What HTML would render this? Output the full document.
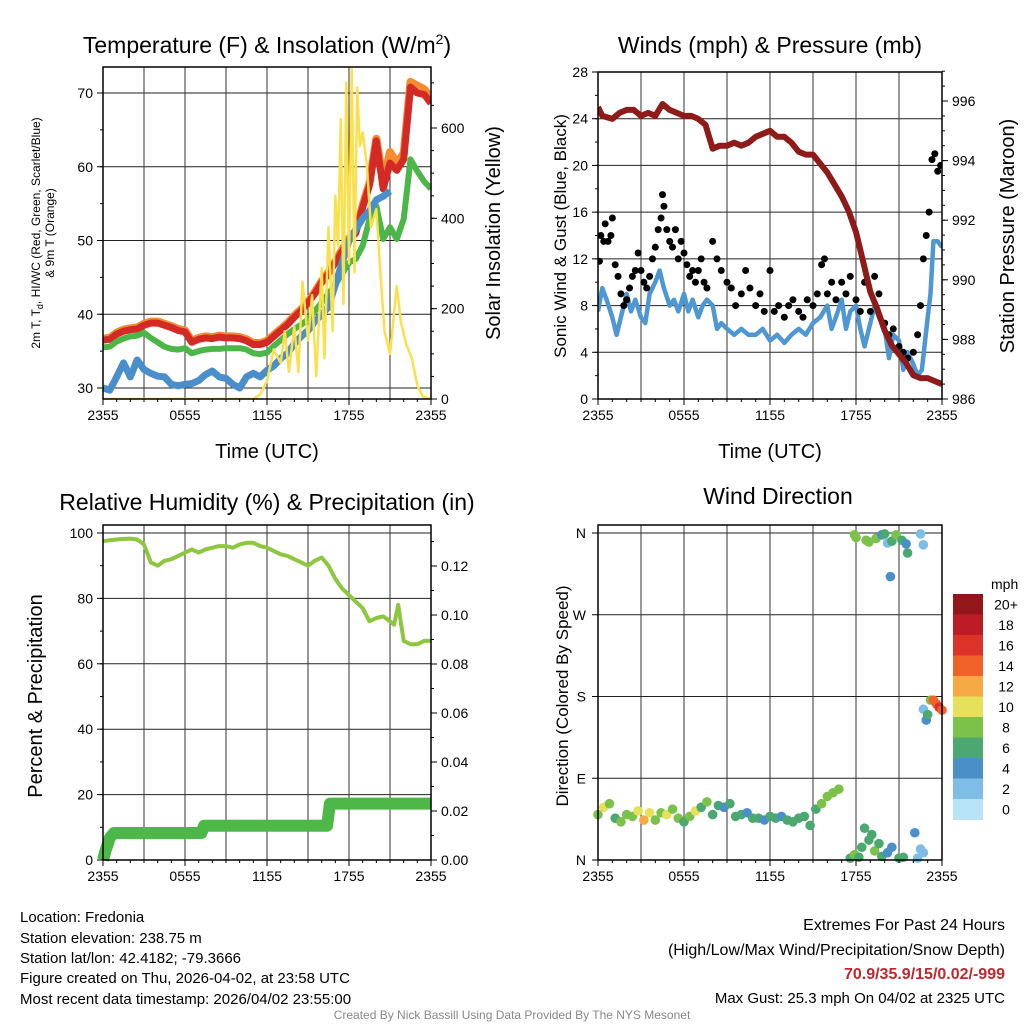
<!DOCTYPE html>
<html><head><meta charset="utf-8"><style>
body{margin:0;background:#fff;}
svg{display:block;font-family:"Liberation Sans",Arial,sans-serif;}
</style></head><body>
<svg id="c" width="1024" height="1024" viewBox="0 0 1024 1024">
<defs>
<clipPath id="clip1"><rect x="103" y="67" width="328" height="332"/></clipPath>
<clipPath id="clip2"><rect x="598" y="72" width="344" height="327"/></clipPath>
</defs>
<g id="g1"></g>
<g id="g2"></g>
<g id="g3"></g>
<g id="g4"></g>
<text x="267" y="53" font-size="23" text-anchor="middle">Temperature (F) &amp; Insolation (W/m<tspan dy="-9" font-size="14">2</tspan><tspan dy="9">)</tspan></text>
<text x="770" y="53" font-size="23" text-anchor="middle">Winds (mph) &amp; Pressure (mb)</text>
<text x="267" y="510" font-size="23" text-anchor="middle">Relative Humidity (%) &amp; Precipitation (in)</text>
<text x="778" y="504" font-size="23" text-anchor="middle">Wind Direction</text>
<text transform="translate(40,233) rotate(-90)" font-size="12" text-anchor="middle">2m T, T<tspan dy="3" font-size="9">d</tspan><tspan dy="-3">, HI/WC (Red, Green, Scarlet/Blue)</tspan></text>
<text transform="translate(54,233) rotate(-90)" font-size="12" text-anchor="middle">&amp; 9m T (Orange)</text>
<text transform="translate(500,233) rotate(-90)" font-size="20" text-anchor="middle">Solar Insolation (Yellow)</text>
<text transform="translate(566,236) rotate(-90)" font-size="17" text-anchor="middle">Sonic Wind &amp; Gust (Blue, Black)</text>
<text transform="translate(1014,236) rotate(-90)" font-size="20" text-anchor="middle">Station Pressure (Maroon)</text>
<text transform="translate(42,696) rotate(-90)" font-size="20" text-anchor="middle">Percent &amp; Precipitation</text>
<text transform="translate(568,696) rotate(-90)" font-size="17" text-anchor="middle">Direction (Colored By Speed)</text>
<text x="267" y="458" font-size="20" text-anchor="middle">Time (UTC)</text>
<text x="770" y="458" font-size="20" text-anchor="middle">Time (UTC)</text>
<g font-size="15">
<text x="20" y="922">Location: Fredonia</text>
<text x="20" y="943">Station elevation: 238.75 m</text>
<text x="20" y="963">Station lat/lon: 42.4182; -79.3666</text>
<text x="20" y="983">Figure created on Thu, 2026-04-02, at 23:58 UTC</text>
<text x="20" y="1004">Most recent data timestamp: 2026/04/02 23:55:00</text>
</g>
<g font-size="16" text-anchor="end">
<text x="1005" y="930">Extremes For Past 24 Hours</text>
<text x="1005" y="955">(High/Low/Max Wind/Precipitation/Snow Depth)</text>
<text x="1005" y="979" fill="#c1272d" font-weight="bold">70.9/35.9/15/0.02/-999</text>
<text x="1005" y="1003" font-size="15">Max Gust: 25.3 mph On 04/02 at 2325 UTC</text>
</g>
<text x="512" y="1019" font-size="12" fill="#888" text-anchor="middle">Created By Nick Bassill Using Data Provided By The NYS Mesonet</text>
</svg>
<script>
const xTickLabels=["2355","0555","1155","1755","2355"];
const tHours=[0,0.5,1,1.5,2,2.5,3,3.5,4,4.5,5,5.5,6,6.5,7,7.5,8,8.5,9,9.5,10,10.5,11,11.5,12,12.5,13,13.5,14,14.5,15,15.5,16,16.5,17,17.5,18,18.5,19,19.5,20,20.5,21,21.5,22,22.5,23,23.5,24];
const redT=[36.5,36.6,37.3,37.7,37.9,38,38.5,38.8,38.8,38.5,38.2,37.8,37.6,36.2,36.6,36.8,36.7,36.9,36.8,36.8,36.7,36.4,35.9,35.9,36.2,37,37.8,38.6,39.6,40.5,41.5,42.8,44.3,45.5,47,48.5,50,51,54.5,57.5,63.5,57,60.5,59.5,61,70.8,70,69.8,68.6];
const orangeT=[36.7,36.8,37.5,37.9,38.1,38.2,38.7,39,39,38.7,38.4,38,37.8,36.4,36.8,37,36.9,37.1,37,37,36.9,36.6,36.1,36.1,36.4,37.2,38,38.8,39.8,40.7,41.7,43,44.5,45.7,47.2,48.8,50.3,51.3,54.8,57.8,63.8,58,62,60.5,61.8,71.5,71,70.5,69.3];
const greenT=[35.5,35.6,36.3,36.7,37,37.1,37.5,36.8,36.2,35.6,35.3,35.2,35.4,34.7,35,35.2,35.3,35.3,35.4,35.4,35.4,35.2,34.7,34.6,34.8,35.7,36.5,37.3,38,38.6,39.3,40.4,41.6,42.8,44,45.5,47,47.5,49.3,52.9,54.7,50.2,51.8,50.2,52.9,61,59.4,58,57];
const blueT=[30,29.7,31.5,33.4,31.5,33.8,32.5,32,31.6,31.5,30.5,30.3,30.5,30.6,31,31.8,32.3,31.5,31.3,30.5,30,31.5,32,31.5,32.4,33,34,34.7,36,37,37.8,39,40,41,44,47,50,51.5,53,54,55.5,56,56.7];
const solarHours=[0,11,11.5,12,12.5,13,13.3,13.6,14,14.3,14.6,15,15.3,15.6,16,16.2,16.5,16.8,17,17.2,17.4,17.6,17.8,18,18.2,18.4,18.6,18.8,19,19.3,19.6,20,20.3,20.6,21,21.5,21.8,22.2,22.6,23,23.4,24];
const solarVals=[0,0,10,40,110,80,150,60,160,60,260,130,230,50,290,90,380,150,450,340,620,210,700,300,730,280,690,560,590,520,380,420,280,150,100,250,170,120,90,30,5,0];
const pHours=[0,0.3,1,1.5,2,2.5,3,3.5,4,4.5,5,5.5,6,6.5,7,7.5,8,8.5,9,9.5,10,10.5,11,11.5,12,12.5,13,13.5,14,14.5,15,15.5,16,16.5,17,17.5,18,18.5,19,19.5,20,20.5,21,21.5,22,22.5,23,23.5,24];
const pressVals=[995.8,995.5,995.4,995.6,995.7,995.7,995.5,995.6,995.5,995.9,995.7,995.6,995.5,995.5,995.4,995.2,994.4,994.5,994.5,994.6,994.5,994.6,994.8,994.9,995,994.8,994.8,994.6,994.3,994.2,994.2,993.9,993.6,993.2,992.8,992.3,991.6,990.6,989.6,989,988.3,987.8,987.5,987.2,986.8,986.7,986.7,986.6,986.5];
const sonicHours=[0,0.3,0.6,1,1.3,1.6,2,2.3,2.6,3,3.3,3.6,4,4.3,4.6,5,5.3,5.6,6,6.3,6.6,7,7.3,7.6,8,8.3,8.6,9,9.5,10,10.5,11,11.5,12,12.5,13,13.5,14,14.5,15,15.5,16,16.3,16.6,17,17.3,17.6,18,18.3,18.6,19,19.3,19.6,20,20.3,20.6,21,21.3,21.6,22,22.3,22.6,23,23.2,23.4,23.7,24];
const sonicVals=[7.5,9.5,8.5,7,5.5,7,9,7.5,8.5,7,6.5,9,10,11,9.5,8,8.5,7.5,9,7.5,8.5,7,8,8.5,8,6,6.5,6,5.5,6,5.5,5.5,6,5,5.5,4.8,5.5,6,5.5,6.5,7,8,6,7,8.5,6,7.5,8,6,4.5,6.5,8,7,6,3.5,5.5,5,2.5,4,3,2,2.5,7,9,13.5,13.5,13];
const gustHours=[0.1,0.2,0.4,0.5,0.7,0.9,1,1.2,1.4,1.6,1.8,2,2.2,2.4,2.6,2.8,3,3.2,3.4,3.6,3.8,4,4.2,4.4,4.5,4.6,4.8,5,5.2,5.4,5.6,5.8,6,6.2,6.4,6.6,6.8,7,7.2,7.4,7.6,8,8.3,8.6,9,9.3,9.6,10,10.3,10.6,11,11.3,11.6,12,12.3,12.6,13,13.3,13.6,14,14.3,14.6,15,15.3,15.6,15.8,16,16.3,16.6,17,17.3,17.6,18,18.3,18.6,19,19.3,19.6,20,20.3,20.6,21,21.3,21.6,22,22.3,22.5,22.7,22.9,23.1,23.3,23.5,23.7,23.9];
const gustVals=[11.8,14,13.5,15,13.5,14,15.5,11.5,10.5,9,8,8.5,9.5,10.5,11,12.5,11,10,9.5,10.5,12,13,14.5,15.5,17.5,16.5,14.5,13.5,13,14.5,12,13.5,12.5,11.5,10.5,11,10,11,12,10,9.5,13.5,12,11,10,9.5,8,9,11,9.5,8,9,7.5,11,7.5,8,7,8,8.5,7.5,7,8.5,8,9,11.5,12,9,10,8.5,10,9,10.5,8.5,7.5,10,7.5,10.5,9,6.5,5.5,6,4.5,4,3.5,4,5.5,8,12,14,16,20.5,21,19.5,20];
const rhHours=[0,0.5,1,1.5,2,2.5,3,3.5,4,4.5,5,5.5,6,6.5,7,7.5,8,8.5,9,9.5,10,10.5,11,11.5,12,12.5,13,13.5,14,14.5,15,15.5,16,16.5,17,17.5,18,18.5,19,19.5,20,20.5,21,21.3,21.6,22,22.5,23,23.5,24];
const rhVals=[97.5,97.8,98,98.2,98.3,98,96.5,91,90,91.5,92,93,94,95,94,95,95.5,96,96,95.5,96.5,97,97,96,95.5,94.5,93.5,93,92,91,90,91.5,92.5,90,86,83,81,79,77,73,74,74.5,73,72,78,67,66,66,67,67];
const precipHours=[0,0.2,0.5,0.8,7.2,7.4,16.4,16.6,24];
const precipVals=[0,0.004,0.009,0.011,0.011,0.014,0.014,0.023,0.023];
const dirHours=[0,0.4,0.8,1.2,1.6,2,2.4,2.8,3.2,3.6,4,4.4,4.8,5.2,5.6,6,6.4,6.8,7.2,7.6,8,8.4,8.8,9.2,9.6,10,10.4,10.8,11.2,11.6,12,12.4,12.8,13.2,13.6,14,14.4,14.8,15.2,15.6,16,16.4,16.8,
17.6,17.9,18.2,18.4,18.6,18.9,19.1,19.3,19.6,19.8,20.2,20.5,21,21.3,22.1,22.3,22.5,22.7,
17.9,18,18.7,18.9,19.4,19.8,20,20.2,20.4,20.5,20.8,21.2,21.5,21.6,22.5,22.7,
22.7,22.9,23,23.2,23.4,23.6,23.8,24];
const dirVals=[50,58,62,46,42,50,48,54,44,52,44,52,50,56,46,42,48,54,58,64,50,60,58,62,48,50,52,46,46,44,48,46,48,44,42,46,48,38,56,62,70,74,78,
2,6,3,14,35,22,28,10,18,4,8,14,2,3,30,2,12,8,
358,355,352,350,354,358,359,349,312,351,358,352,348,338,359,347,
166,154,160,176,176,172,168,165];
const dirSpeeds=[8,10,8,6,8,9,8,10,12,10,9,8,10,8,8,6,8,10,6,8,6,6,4,6,6,6,4,6,6,4,6,6,4,6,6,6,6,6,7,8,8,8,8,
6,8,6,6,6,6,6,8,6,6,4,4,6,6,4,2,2,2,
8,8,8,8,8,4,6,2,4,6,8,6,4,6,2,2,
2,4,6,8,14,14,16,14];
const cbLabels=["20+","18","16","14","12","10","8","6","4","2","0"];
const cbColors=["#93161b","#bd1c26","#dc3328","#f16229","#f6a945","#e6e15a","#7cc24a","#4aa870","#4a8fc7","#7dbde6","#b9e4f8"];

const NS="http://www.w3.org/2000/svg";
function mk(parent,tag,attrs){const e=document.createElementNS(NS,tag);for(const k in attrs)e.setAttribute(k,attrs[k]);parent.appendChild(e);return e;}
function lin(d0,d1,r0,r1){return v=>r0+(v-d0)*(r1-r0)/(d1-d0);}
function pathD(xs,ys,fx,fy){return xs.map((h,i)=>(i?"L":"M")+fx(h).toFixed(1)+","+fy(ys[i]).toFixed(1)).join("");}

function frame(g,L,T,R,B,vgrid,hgridVals,fy){
  hgridVals.forEach(v=>{const l=mk(g,"line",{x1:L,x2:R,y1:fy(v),y2:fy(v),stroke:"#222","stroke-width":1});
  
  });
  vgrid.forEach(x=>{const l=mk(g,"line",{x1:x,x2:x,y1:T,y2:B,stroke:"#333","stroke-width":1});
  
  });
}
function border(g,L,T,R,B){const r=mk(g,"rect",{x:L,y:T,width:R-L,height:B-T,fill:"none",stroke:"#000","stroke-width":1.5});

}
function xaxis(g,L,R,B){
  const fx=lin(0,24,L,R);
  for(let h=0;h<=24;h+=1){const big=h%6==0;mk(g,"line",{x1:fx(h),x2:fx(h),y1:B,y2:B+(big?6:3),stroke:"#000"});}
  xTickLabels.forEach((t,i)=>{const e=mk(g,"text",{x:fx(i*6),y:B+21,"font-size":14,"text-anchor":"middle"});e.textContent=t;
  
  });
}
function yaxis(g,x,side,fy,vals,minors,fmt){
  const s=side<0?-1:1;
  minors.forEach(v=>mk(g,"line",{x1:x,x2:x+s*3,y1:fy(v),y2:fy(v),stroke:"#000"}));
  vals.forEach(v=>{mk(g,"line",{x1:x,x2:x+s*6,y1:fy(v),y2:fy(v),stroke:"#000"});
   const e=mk(g,"text",{x:x+s*10,y:fy(v)+5,"font-size":14,"text-anchor":s<0?"end":"start"});e.textContent=fmt(v);
   
   });
}
function rng(a,b,s){const r=[];for(let v=a;v<=b+1e-9;v+=s)r.push(+v.toFixed(4));return r;}
function vg(L,R){return rng(0,24,3).map(lin(0,24,L,R));}

// Panel 1
(function(){const g=document.getElementById("g1");const L=103,T=67,R=431,B=399;
 const fx=lin(0,24,L,R),fy=lin(30,70,388,93),fs=lin(0,600,399,128);
 frame(g,L,T,R,B,vg(L,R),[30,40,50,60,70],fy);
 const cg=mk(g,"g",{"clip-path":"url(#clip1)"});
 const lines=[[tHours,orangeT,"#f58b33",8,"temp-9m-line"],[tHours,redT,"#d42a26",7,"temp-2m-line"],[tHours,greenT,"#4cb748",6,"dewpoint-line"],[tHours.slice(0,blueT.length),blueT,"#4a8fcb",7,"windchill-line"],[solarHours,solarVals,"#fbe04e",2.5,"solar-line"]];
 lines.forEach(([xs,ys,c,w,n],i)=>{const f=i==4?fs:fy;const p=mk(cg,"path",{d:pathD(xs,ys,fx,f),fill:"none",stroke:c,"stroke-width":w,"stroke-linejoin":"round"});
  
  });
 border(g,L,T,R,B);xaxis(g,L,R,B);
 yaxis(g,L,-1,fy,[30,40,50,60,70],rng(30,70,5),v=>v);
 yaxis(g,R,1,fs,[0,200,400,600],rng(0,700,50),v=>v);
})();
// Panel 2
(function(){const g=document.getElementById("g2");const L=598,T=72,R=942,B=399;
 const fx=lin(0,24,L,R),fy=lin(0,28,399,72),fp=lin(986,996,399,101);
 frame(g,L,T,R,B,vg(L,R),rng(0,28,4),fy);
 const cg=mk(g,"g",{"clip-path":"url(#clip2)"});
 const s=mk(cg,"path",{d:pathD(sonicHours,sonicVals,fx,fy),fill:"none",stroke:"#4f97d2","stroke-width":4.5,"stroke-linejoin":"round"});
 
 
 gustHours.forEach((h,i)=>{const c=mk(cg,"circle",{cx:fx(h),cy:fy(gustVals[i]),r:3.5,fill:"#000"});
  
  });
 const p=mk(cg,"path",{d:pathD(pHours,pressVals,fx,fp),fill:"none",stroke:"#8e1a1a","stroke-width":6,"stroke-linejoin":"round"});
 
 
 border(g,L,T,R,B);xaxis(g,L,R,B);
 yaxis(g,L,-1,fy,rng(0,28,4),rng(0,28,2),v=>v);
 yaxis(g,R,1,fp,[986,988,990,992,994,996],rng(986,997,0.5),v=>v);
})();
// Panel 3
(function(){const g=document.getElementById("g3");const L=103,T=525,R=431,B=860;
 const fx=lin(0,24,L,R),fy=lin(0,100,860,533),fq=lin(0,0.12,860,566);
 frame(g,L,T,R,B,vg(L,R),[20,40,60,80,100],fy);
 const r=mk(g,"path",{d:pathD(rhHours,rhVals,fx,fy),fill:"none",stroke:"#8dc63f","stroke-width":4,"stroke-linejoin":"round"});
 
 
 const q=mk(g,"path",{d:pathD(precipHours,precipVals,fx,fq),fill:"none",stroke:"#4db848","stroke-width":12,"stroke-linejoin":"round"});
 
 
 border(g,L,T,R,B);xaxis(g,L,R,B);
 yaxis(g,L,-1,fy,[0,20,40,60,80,100],rng(0,100,10),v=>v);
 yaxis(g,R,1,fq,rng(0,0.12,0.02),rng(0,0.13,0.01),v=>v.toFixed(2));
})();
// Panel 4
(function(){const g=document.getElementById("g4");const L=598,T=525,R=942,B=860;
 const fx=lin(0,24,L,R),fy=lin(0,360,860,533);
 frame(g,L,T,R,B,vg(L,R),[90,180,270,360],fy);
 function col(s){const i=Math.min(10,Math.floor(s/2));return cbColors[10-i];}
 dirHours.forEach((h,i)=>{const c=mk(g,"circle",{cx:fx(h),cy:fy(dirVals[i]),r:4.8,fill:col(dirSpeeds[i])});
  
  });
 border(g,L,T,R,B);xaxis(g,L,R,B);
 ["N","E","S","W","N"].forEach((t,i)=>{mk(g,"line",{x1:L,x2:L-6,y1:fy(i*90),y2:fy(i*90),stroke:"#000"});
  const e=mk(g,"text",{x:L-12,y:fy(i*90)+5,"font-size":14,"text-anchor":"end"});e.textContent=t;
  
  });
 const lt=mk(g,"text",{x:991,y:589,"font-size":14,"text-anchor":"start"});lt.textContent="mph";
 
 
 const h=20.5;
 cbColors.forEach((c,i)=>{const r=mk(g,"rect",{x:953,y:594+i*h,width:30,height:h+0.5,fill:c});
  
  
  const e=mk(g,"text",{x:1006,y:594+i*h+h/2+5,"font-size":14,"text-anchor":"middle"});e.textContent=cbLabels[i];
  
  });
})();
</script>
</body></html>
